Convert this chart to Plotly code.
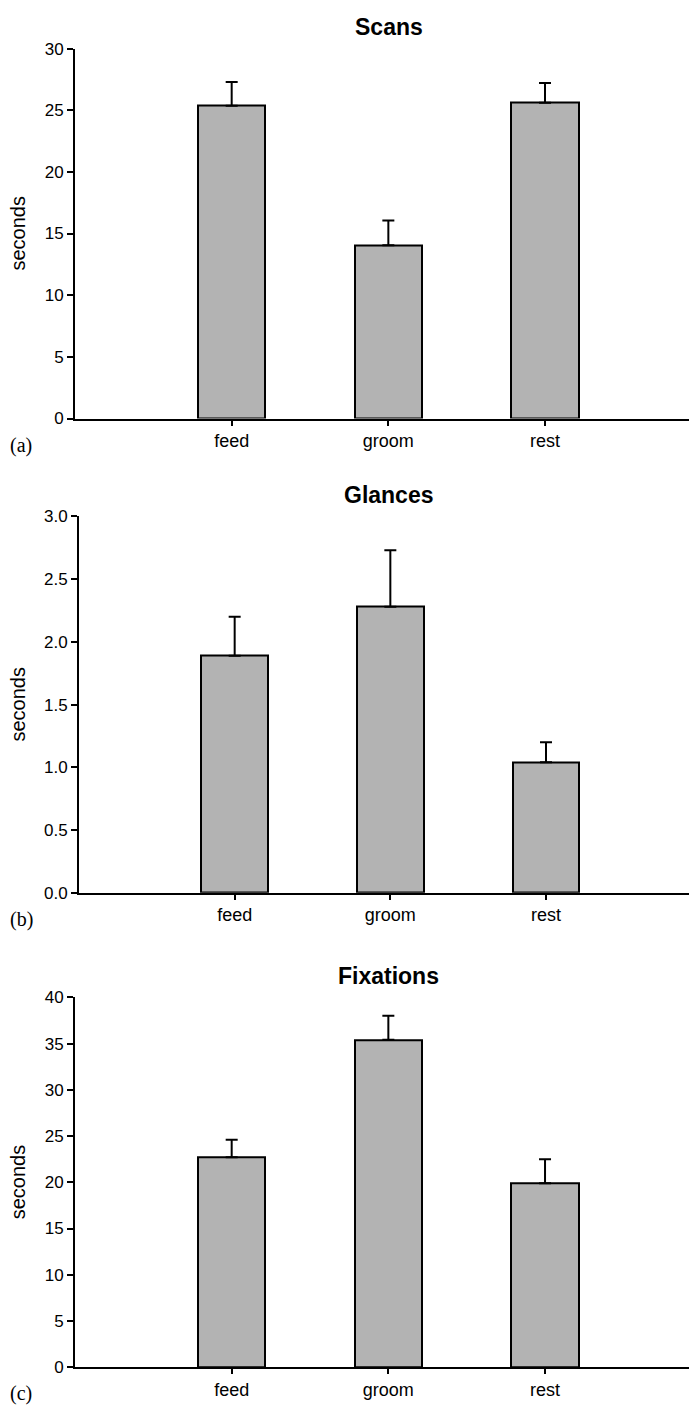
import plotly.graph_objects as go

categories = ["feed", "groom", "rest"]

scans_mean = [25.36, 14.05, 25.6]
scans_se = [1.92, 2.0, 1.6]

glances_mean = [1.89, 2.28, 1.04]
glances_se = [0.31, 0.45, 0.16]

fix_mean = [22.7, 35.4, 19.9]
fix_se = [1.9, 2.6, 2.6]

titles = ["Scans", "Glances", "Fixations"]
letters = ["(a)", "(b)", "(c)"]
y_ranges = [[0, 30], [0, 3.0], [0, 40]]
y_dtick = [5, 0.5, 5]
y_fmt = ["d", ".1f", "d"]

# page body has an 8px default margin; compensate so the figure fills the window
OFF = 8
W, H = 697 - OFF, 1418 - OFF


def fx(px):
    return (px - OFF) / W


def fy(py):
    return 1 - (py - OFF) / H


# pixel geometry of each panel in the target window: (left, top, bottom)
panels_px = [(75, 40, 415), (79, 514.3, 895.7), (75, 1001.7, 1376.7)]

means = [scans_mean, glances_mean, fix_mean]
ses = [scans_se, glances_se, fix_se]

fig = go.Figure()
SANS = "Liberation Sans, Arial, sans-serif"

annotations = []
for i in range(3):
    n = "" if i == 0 else str(i + 1)
    left, top, bot = panels_px[i]
    fig.add_trace(go.Bar(
        x=[0, 1, 2], y=means[i], width=0.43,
        marker=dict(color="#b3b3b3", line=dict(color="black", width=2)),
        error_y=dict(type="data", array=ses[i], arrayminus=[0, 0, 0], symmetric=False,
                     color="black", thickness=2, width=6),
        xaxis="x" + n, yaxis="y" + n, showlegend=False,
    ))
    fig.layout["xaxis" + n] = dict(
        domain=[fx(left), 1], range=[-1, 2.97], anchor="y" + n,
        tickvals=[0, 1, 2], ticktext=categories,
        showline=True, linecolor="black", linewidth=2,
        ticks="outside", ticklen=5, tickwidth=1.5, tickcolor="black",
        showgrid=False, zeroline=False,
        tickfont=dict(family=SANS, size=18, color="black"),
    )
    fig.layout["yaxis" + n] = dict(
        domain=[fy(bot), fy(top)], range=y_ranges[i], anchor="x" + n,
        dtick=y_dtick[i], tick0=0, tickformat=y_fmt[i],
        showline=True, linecolor="black", linewidth=2,
        ticks="outside", ticklen=6, tickwidth=1.5, tickcolor="black",
        showgrid=False, zeroline=False,
        tickfont=dict(family=SANS, size=17, color="black"),
    )
    mid = (top + bot) / 2
    annotations.append(dict(text="seconds", x=fx(18), y=fy(mid), xref="paper", yref="paper",
                            textangle=-90, showarrow=False, xanchor="center", yanchor="middle",
                            font=dict(family=SANS, size=20, color="black")))
    annotations.append(dict(text="<b>" + titles[i] + "</b>", x=fx(388.5), y=fy(top - 22),
                            xref="paper", yref="paper", showarrow=False,
                            xanchor="center", yanchor="middle",
                            font=dict(family=SANS, size=23, color="black")))
    annotations.append(dict(text=letters[i], x=fx(8), y=fy(bot + 27),
                            xref="paper", yref="paper", showarrow=False,
                            xanchor="left", yanchor="middle",
                            font=dict(family="Liberation Serif, Times New Roman, serif", size=20, color="black")))

fig.update_layout(
    width=W, height=H, margin=dict(l=0, r=0, t=0, b=0),
    paper_bgcolor="white", plot_bgcolor="white",
    annotations=annotations, bargap=0,
)

fig.write_html("out.html")
